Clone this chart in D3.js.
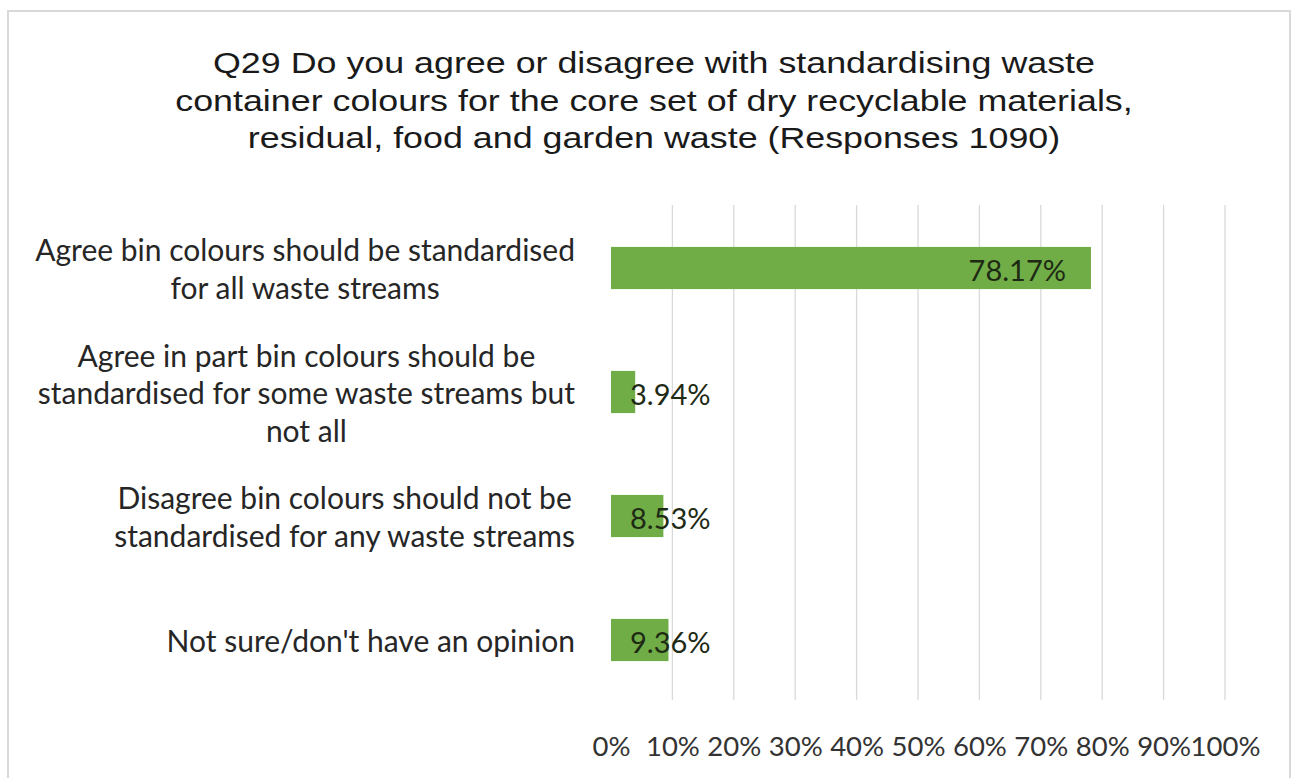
<!DOCTYPE html>
<html>
<head>
<meta charset="utf-8">
<script src="https://cdn.jsdelivr.net/npm/d3@7"></script>
<style>
  html, body { margin: 0; padding: 0; background: #ffffff; }
  svg { display: block; }
</style>
</head>
<body>
<svg id="chart" width="1297" height="778"></svg>
<script>
// Survey responses to Q29 (percent of 1090 responses)
const titleLines = [
  "Q29 Do you agree or disagree with standardising waste",
  "container colours for the core set of dry recyclable materials,",
  "residual, food and garden waste (Responses 1090)"
];
const categories = [
  ["Agree bin colours should be standardised", "for all waste streams"],
  ["Agree in part bin colours should be", "standardised for some waste streams but", "not all"],
  ["Disagree bin colours should not be", "standardised for any waste streams"],
  ["Not sure/don't have an opinion"]
];
const values = [78.17, 3.94, 8.53, 9.36];
const tickValues = [0, 10, 20, 30, 40, 50, 60, 70, 80, 90, 100];

const svg = d3.select("#chart");
const labelFont = "Lato, Carlito, Calibri, 'Open Sans', sans-serif";

// Chart frame
svg.append("rect")
  .attr("x", 8).attr("y", 11)
  .attr("width", 1282).attr("height", 790)
  .attr("fill", "#ffffff")
  .attr("stroke", "#d9d9d9").attr("stroke-width", 2);

// Title: wide Arial-style lettering, stretched horizontally
const titleStretch = 1.235;
const title = svg.append("text")
  .attr("text-anchor", "middle")
  .attr("font-family", "'Liberation Sans', Arial, sans-serif")
  .attr("font-size", 29)
  .attr("fill", "#1a1a1a");
titleLines.forEach((t, i) => {
  const sp = title.append("tspan").attr("x", 654).attr("y", 73 + i * 37.5).text(t);
  const w = sp.node().getComputedTextLength();
  sp.attr("textLength", w * titleStretch).attr("lengthAdjust", "spacingAndGlyphs");
});

// Scales
const x = d3.scaleLinear().domain([0, 100]).range([611, 1225]);
const ids = categories.map((_, i) => i);
const y = d3.scaleBand().domain(ids).range([206, 702]).paddingInner(0.66).paddingOuter(0.33);

// Gridlines
svg.append("g")
  .selectAll("line")
  .data(tickValues.filter(d => d > 0))
  .join("line")
  .attr("x1", d => x(d)).attr("x2", d => x(d))
  .attr("y1", 205).attr("y2", 700)
  .attr("stroke", "#d9d9d9").attr("stroke-width", 1.3);

// Bottom axis labels (no axis line)
const axis = d3.axisBottom(x)
  .tickValues(tickValues)
  .tickFormat(d => d + "%")
  .tickSize(0)
  .tickPadding(0);
const axisG = svg.append("g")
  .attr("transform", "translate(0,736)")
  .call(axis);
axisG.select(".domain").remove();
axisG.selectAll("text")
  .attr("font-family", labelFont)
  .attr("font-size", 27.5)
  .attr("fill", "#333333");

// Bars
svg.append("g")
  .selectAll("rect")
  .data(values)
  .join("rect")
  .attr("x", x(0))
  .attr("y", (d, i) => y(i))
  .attr("width", d => x(d) - x(0))
  .attr("height", y.bandwidth())
  .attr("fill", "#70ad47");

// Data labels
const dl = svg.append("g")
  .selectAll("text")
  .data(values)
  .join("text")
  .attr("font-family", labelFont)
  .attr("font-size", 29)
  .attr("fill", "#1e2a14")
  .attr("dominant-baseline", "central")
  .attr("y", (d, i) => y(i) + y.bandwidth() / 2 + 1)
  .attr("text-anchor", "end")
  .text(d => d.toFixed(2) + "%");
dl.each(function(d) {
  const w = this.getComputedTextLength();
  const endX = Math.max(x(d) - 25, x(0) + 19 + w);
  d3.select(this).attr("x", endX);
});

// Category labels: lines centred within a block that is right-aligned to the axis
const rightEdge = 575;
const lineH = 37.5;
const catG = svg.append("g");
categories.forEach((lines, i) => {
  const t = catG.append("text")
    .attr("font-family", labelFont)
    .attr("font-size", 30)
    .attr("fill", "#262626")
    .attr("text-anchor", "middle")
    .attr("dominant-baseline", "central");
  const cy = y(i) + y.bandwidth() / 2;
  const top = cy - (lines.length - 1) * lineH / 2;
  const spans = lines.map((ln, k) =>
    t.append("tspan").attr("y", top + k * lineH).text(ln));
  const maxW = d3.max(spans, s => s.node().getComputedTextLength());
  spans.forEach(s => s.attr("x", rightEdge - maxW / 2));
});
</script>
</body>
</html>
